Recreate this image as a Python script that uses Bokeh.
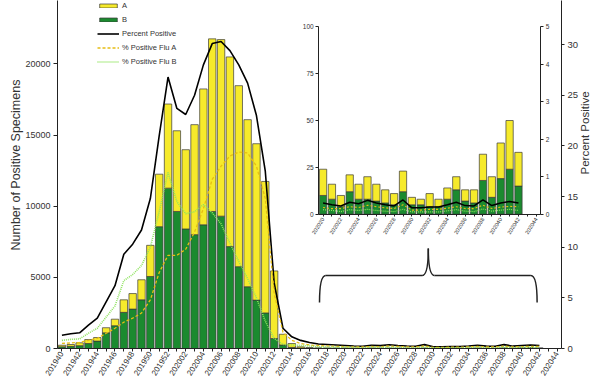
import math
from bokeh.plotting import figure
from bokeh.models import (ColumnDataSource, Range1d, LinearAxis,
                          FixedTicker, Legend, LegendItem, Title)
from bokeh.core.properties import value
from bokeh.embed import file_html
from bokeh.resources import INLINE

# ---------------- data ----------------
weeks = ["201940", "201941", "201942", "201943", "201944", "201945", "201946",
         "201947", "201948", "201949", "201950", "201951", "201952",
         "202001", "202002", "202003", "202004", "202005", "202006", "202007",
         "202008", "202009", "202010", "202011", "202012", "202013", "202014",
         "202015", "202016", "202017", "202018", "202019", "202020", "202021",
         "202022", "202023", "202024", "202025", "202026", "202027", "202028",
         "202029", "202030", "202031", "202032", "202033", "202034", "202035",
         "202036", "202037", "202038", "202039", "202040", "202041", "202042",
         "202043", "202044"]

flu_a = [110, 130, 200, 280, 250, 360, 460, 880, 1090, 1410, 2190, 3690, 5910,
         5670, 5570, 7730, 9550, 12130, 12410, 13330, 12720, 11740, 10990, 9240,
         4750, 750, 270, 80, 35, 25, 18, 15,
         14, 8, 6, 9, 8, 12, 9, 7, 6, 11, 4, 3, 7, 4, 6, 7, 6, 7, 14, 11, 19, 26, 18]
flu_b = [120, 150, 200, 350, 520, 1100, 1600, 2540, 2770, 3420, 5060, 8560, 11270,
         9630, 8400, 8000, 8690, 9630, 9300, 7160, 5750, 4340, 3400, 2500,
         700, 250, 80, 40, 25, 15, 12, 10,
         10, 8, 4, 12, 8, 8, 7, 6, 5, 12, 5, 5, 4, 4, 8, 13, 7, 6, 18, 9, 19, 24, 15]
pct_positive = [1.3, 1.45, 1.55, 2.3, 3.0, 4.6, 6.2, 9.3, 10.3, 11.7, 14.8, 21.0, 26.8,
                23.7, 23.1, 25.0, 28.0, 30.1, 30.3, 29.4, 28.0, 26.2, 23.0, 17.5,
                6.5, 2.0, 1.15, 0.8, 0.6, 0.45, 0.4, 0.35,
                0.30, 0.25, 0.22, 0.32, 0.28, 0.37, 0.30, 0.25, 0.22, 0.38, 0.17, 0.17,
                0.19, 0.19, 0.25, 0.32, 0.23, 0.22, 0.38, 0.23, 0.30, 0.34, 0.30]
pct_flu_a = [0.5, 0.55, 0.6, 0.8, 1.0, 1.5, 2.0, 2.6, 3.0, 3.5, 4.8, 7.5, 9.2,
             9.2, 9.8, 11.5, 13.8, 16.7, 18.0, 19.0, 19.4, 19.3, 18.0, 14.8,
             5.5, 1.6, 0.8, 0.5, 0.35, 0.28, 0.25, 0.22,
             0.18, 0.15, 0.15, 0.20, 0.18, 0.24, 0.20, 0.17, 0.15, 0.25, 0.11, 0.11,
             0.13, 0.13, 0.16, 0.20, 0.15, 0.15, 0.24, 0.15, 0.19, 0.21, 0.20]
pct_flu_b = [0.8, 0.9, 0.95, 1.5, 2.0, 3.1, 4.2, 6.7, 7.3, 8.2, 10.0, 13.5, 17.4,
             14.5, 13.3, 13.5, 14.2, 13.4, 12.3, 10.4, 8.6, 6.9, 5.0, 2.7,
             1.0, 0.4, 0.35, 0.3, 0.25, 0.17, 0.15, 0.13,
             0.12, 0.10, 0.07, 0.12, 0.10, 0.13, 0.10, 0.08, 0.07, 0.13, 0.06, 0.06,
             0.06, 0.06, 0.09, 0.12, 0.08, 0.07, 0.14, 0.08, 0.11, 0.13, 0.10]

left_ticks = [0, 5000, 10000, 15000, 20000]
right_ticks = [0, 5, 10, 15, 20, 25, 30]
inset_left_ticks = [0, 25, 50, 75, 100]
inset_right_ticks = [0, 1, 2, 3, 4, 5]
inset_first_week = "202020"

# ---------------- styles / geometry ----------------
FONT = "Liberation Sans"
YELLOW = "#f6ea2b"
GREEN = "#1b8a2f"
OUTLINE = "#3a3a3a"
LINE_A = "#e6bd14"
LINE_B = "#8fe35f"
AXIS = "#222222"
TXT = "#333333"

W, H = 600, 380
FL, FW = 57, 509          # frame left / width (px)
FH = 348                  # expected frame height (px)
PX_PER_1000 = 14.23       # left axis scale
PX_PER_PCT = 10.13        # right axis scale
IN_ZERO = 134.3           # inset baseline height above frame bottom (px)
IN_PX_UNIT = 1.874        # inset count scale
IN_X0, IN_PX_CAT = 325.2, 8.97   # inset first category centre, category pitch

n = len(flu_a)
nw = len(weeks)
i0 = weeks.index(inset_first_week)
inset_weeks = weeks[i0:]
m = len(inset_weeks)

main_src = ColumnDataSource(dict(x=list(range(n)), A=flu_a, B=flu_b,
                                 pp=pct_positive, pa=pct_flu_a, pb=pct_flu_b))
inset_src = ColumnDataSource(dict(x=list(range(n - i0)), A=flu_a[i0:], B=flu_b[i0:],
                                  pp=pct_positive[i0:], pa=pct_flu_a[i0:], pb=pct_flu_b[i0:]))

p = figure(width=W, height=H, x_range=Range1d(-0.5, nw - 0.5),
           y_range=Range1d(0, FH / PX_PER_1000 * 1000), output_backend="svg",
           toolbar_location=None, min_border_left=FL, min_border_right=W - FL - FW,
           min_border_top=0, min_border_bottom=30)
p.outline_line_color = None
p.xgrid.visible = False
p.ygrid.visible = False
p.background_fill_color = "white"

in_y0 = -IN_ZERO / IN_PX_UNIT
in_p_unit = IN_PX_UNIT * 20
in_p0 = -IN_ZERO / in_p_unit
in_x0 = -(IN_X0 - FL) / IN_PX_CAT
p.extra_y_ranges = {
    "pct": Range1d(0, FH / PX_PER_PCT),
    "inset_y": Range1d(in_y0, in_y0 + FH / IN_PX_UNIT),
    "inset_pct": Range1d(in_p0, in_p0 + FH / in_p_unit),
}
p.extra_x_ranges = {"inset_x": Range1d(in_x0, in_x0 + FW / IN_PX_CAT)}

# ---------------- main bars & lines ----------------
rb, ra = p.vbar_stack(["B", "A"], x="x", width=0.84, source=main_src,
                      fill_color=[GREEN, YELLOW], line_color=OUTLINE, line_width=0.7)
l_pp = p.line("x", "pp", source=main_src, y_range_name="pct", line_color="black", line_width=1.6)
l_pa = p.line("x", "pa", source=main_src, y_range_name="pct", line_color=LINE_A,
              line_width=1.3, line_dash="3 2")
l_pb = p.line("x", "pb", source=main_src, y_range_name="pct", line_color=LINE_B,
              line_width=1.6, line_dash="1 1")

# ---------------- axes ----------------
def style_axis(ax, size):
    ax.axis_line_color = AXIS
    ax.axis_line_width = 1
    ax.major_tick_line_color = AXIS
    ax.minor_tick_line_color = None
    ax.major_tick_in = 0
    ax.major_label_text_font = FONT
    ax.major_label_text_font_size = size
    ax.major_label_text_color = TXT

xa = p.xaxis[0]
style_axis(xa, "8px")
xa.ticker = FixedTicker(ticks=list(range(nw)))
xa.major_label_overrides = {k: (w if k % 2 == 0 else "") for k, w in enumerate(weeks)}
xa.major_tick_out = 3
xa.major_label_orientation = 1.0
xa.major_label_standoff = 1

ya = p.yaxis[0]
style_axis(ya, "9px")
ya.ticker = FixedTicker(ticks=left_ticks)
ya.major_tick_out = 4
ya.major_label_standoff = 3

yr = LinearAxis(y_range_name="pct", ticker=FixedTicker(ticks=right_ticks))
style_axis(yr, "9.5px")
yr.major_tick_out = 3
yr.major_label_standoff = 3
p.add_layout(yr, "right")

# axis titles
p.add_layout(Title(text="Number of Positive Specimens", align="left", offset=98,
                   standoff=0, text_font=FONT, text_font_size="12.5px",
                   text_font_style="normal", text_color=TXT), "left")
if "axis_label_orientation" in LinearAxis.properties():
    yr.axis_label = "Percent Positive"
    yr.axis_label_orientation = math.pi / 2
    yr.axis_label_standoff = 4
    yr.axis_label_text_align = "center"
    yr.axis_label_text_font = FONT
    yr.axis_label_text_font_size = "11.5px"
    yr.axis_label_text_font_style = "normal"
    yr.axis_label_text_color = TXT
else:
    p.add_layout(Title(text="Percent Positive", align="center", standoff=0,
                       text_font=FONT, text_font_size="11.5px",
                       text_font_style="normal", text_color=TXT), "right")

# ---------------- inset ----------------
p.vbar_stack(["B", "A"], x="x", width=0.82, source=inset_src,
             fill_color=[GREEN, YELLOW], line_color=OUTLINE, line_width=0.7,
             x_range_name="inset_x", y_range_name="inset_y")
p.line("x", "pp", source=inset_src, x_range_name="inset_x", y_range_name="inset_pct",
       line_color="black", line_width=1.5)
p.line("x", "pa", source=inset_src, x_range_name="inset_x", y_range_name="inset_pct",
       line_color=LINE_A, line_width=1.1, line_dash="2 2")
p.line("x", "pb", source=inset_src, x_range_name="inset_x", y_range_name="inset_pct",
       line_color=LINE_B, line_width=1.2, line_dash="1 1")

ix_lo, ix_hi = -0.5, m - 0.5

def inset_axis(ax, tick_len=3):
    # tick marks only (labels are drawn as text inside the frame)
    ax.axis_line_color = AXIS
    ax.major_tick_line_color = None
    ax.minor_tick_line_color = AXIS
    ax.minor_tick_in = 0
    ax.minor_tick_out = tick_len

ib = LinearAxis(x_range_name="inset_x", y_range_name="inset_y", fixed_location=0,
                bounds=(ix_lo, ix_hi), ticker=FixedTicker(ticks=[], minor_ticks=list(range(m))))
inset_axis(ib, 2)
p.add_layout(ib, "below")

il = LinearAxis(x_range_name="inset_x", y_range_name="inset_y", fixed_location=ix_lo,
                bounds=(0, 100), ticker=FixedTicker(ticks=[], minor_ticks=inset_left_ticks))
inset_axis(il)
p.add_layout(il, "left")

ir = LinearAxis(x_range_name="inset_x", y_range_name="inset_pct", fixed_location=ix_hi,
                bounds=(0, 5), ticker=FixedTicker(ticks=[], minor_ticks=inset_right_ticks))
inset_axis(ir)
p.add_layout(ir, "right")

# inset tick labels (text inside the main frame)
xl = list(range(0, m, 2))
p.text(x=xl, y=[0] * len(xl), text=[inset_weeks[k] for k in xl],
       x_range_name="inset_x", y_range_name="inset_y", angle=1.0,
       text_align="right", text_baseline="middle", y_offset=4,
       text_font=value(FONT), text_font_size="5.5px", text_color=TXT)
p.text(x=[ix_lo] * len(inset_left_ticks), y=inset_left_ticks,
       text=[str(v) for v in inset_left_ticks],
       x_range_name="inset_x", y_range_name="inset_y",
       text_align="right", text_baseline="middle", x_offset=-5,
       text_font=value(FONT), text_font_size="6.5px", text_color=TXT)
p.text(x=[ix_hi] * len(inset_right_ticks), y=inset_right_ticks,
       text=[str(v) for v in inset_right_ticks],
       x_range_name="inset_x", y_range_name="inset_pct",
       text_align="left", text_baseline="middle", x_offset=5,
       text_font=value(FONT), text_font_size="6.5px", text_color=TXT)

# ---------------- brace (annotation pointing to inset) ----------------
bl, br = ix_lo + 0.1, ix_hi - 0.4
bm = (bl + br) / 2
y_end, y_bar, y_tip = 3230, 5130, 7030
c = 0.7
p.quadratic(x0=[bl, br, bm - c, bm + c], y0=[y_end, y_end, y_bar, y_bar],
            x1=[bl + c, br - c, bm, bm], y1=[y_bar, y_bar, y_tip, y_tip],
            cx=[bl, br, bm, bm], cy=[y_bar, y_bar, y_bar, y_bar],
            x_range_name="inset_x", line_color=AXIS, line_width=1.5)
p.segment(x0=[bl + c, bm + c], y0=[y_bar, y_bar], x1=[bm - c, br - c], y1=[y_bar, y_bar],
          x_range_name="inset_x", line_color=AXIS, line_width=1.5)

# ---------------- legend ----------------
legend = Legend(items=[LegendItem(label="A", renderers=[ra]),
                       LegendItem(label="B", renderers=[rb]),
                       LegendItem(label="Percent Positive", renderers=[l_pp]),
                       LegendItem(label="% Positive Flu A", renderers=[l_pa]),
                       LegendItem(label="% Positive Flu B", renderers=[l_pb])],
                location=(40, FH - 67), orientation="vertical",
                background_fill_alpha=0, border_line_color=None,
                padding=0, margin=0, spacing=3,
                glyph_width=22, glyph_height=5, label_height=11, label_standoff=3,
                label_text_font=FONT, label_text_font_size="7.5px", label_text_color=TXT)
p.add_layout(legend, "center")

open("out.html", "w").write(file_html(p, INLINE))
